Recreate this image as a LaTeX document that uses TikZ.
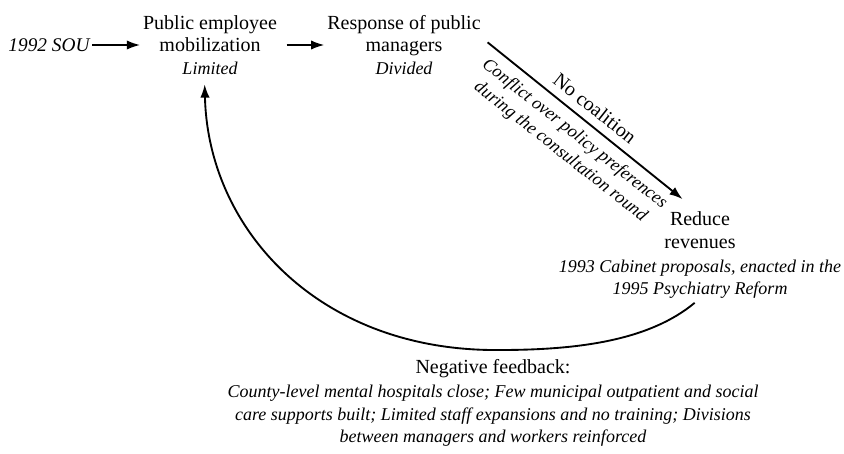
\documentclass[tikz,border=0pt]{standalone}
\usepackage{fontspec}
\setmainfont{Liberation Serif}
\usetikzlibrary{arrows.meta}
\newcommand{\RomanSize}{\fontsize{15}{17}\selectfont}
\newcommand{\ItalSize}{\fontsize{13.5}{17}\selectfont\itshape}

\begin{document}
\begin{tikzpicture}[x=0.75pt, y=-0.75pt,
    every node/.style={font=\RomanSize, align=center, inner sep=2pt},
    stage/.style={font=\RomanSize},
    note/.style={font=\ItalSize},
    flow/.style={line width=1.4pt, -{Latex[length=10pt, width=7pt]}}]

    \useasboundingbox (0,0) rectangle (844,454);

    \node[note] (sou) at (49,45) {\fontsize{14.5}{17}\selectfont 1992 SOU};
    \node[stage] (mob) at (210,45) {Public employee\\mobilization\\{\ItalSize Limited}};
    \node[stage] (resp) at (404,45) {Response of public\\managers\\{\ItalSize Divided}};
    \node[stage] (rev) at (700,255) {Reduce\\revenues\\[1pt]{\ItalSize 1993 Cabinet proposals, enacted in the}\\{\ItalSize 1995 Psychiatry Reform}};
    \node[stage] (fb) at (493,403) {Negative feedback:\\[1pt]{\ItalSize County-level mental hospitals close; Few municipal outpatient and social}\\{\ItalSize care supports built; Limited staff expansions and no training; Divisions}\\{\ItalSize between managers and workers reinforced}};

    \coordinate (low) at (500,350);

    \draw[flow] (sou) -- (mob);
    \draw[flow, shorten <=5pt] (mob) -- (resp);
    \draw[flow] ([xshift=3pt, yshift=2pt]resp.east) -- ([xshift=-13pt, yshift=7pt]rev.north)
        node[midway, rotate=-38.3, anchor=south, stage, inner sep=6pt] {No coalition}
        node[pos=0.5, rotate=-38.3, anchor=north, note, inner sep=6pt] {Conflict over policy preferences\\during the consultation round};
    \draw[flow] ([xshift=-4pt, yshift=-1pt]rev.south) .. controls (650,340) and (580,350) .. (low)
        .. controls (320,352) and (208,230) .. ([xshift=-4pt, yshift=-5pt]mob.south);
\end{tikzpicture}
\end{document}
